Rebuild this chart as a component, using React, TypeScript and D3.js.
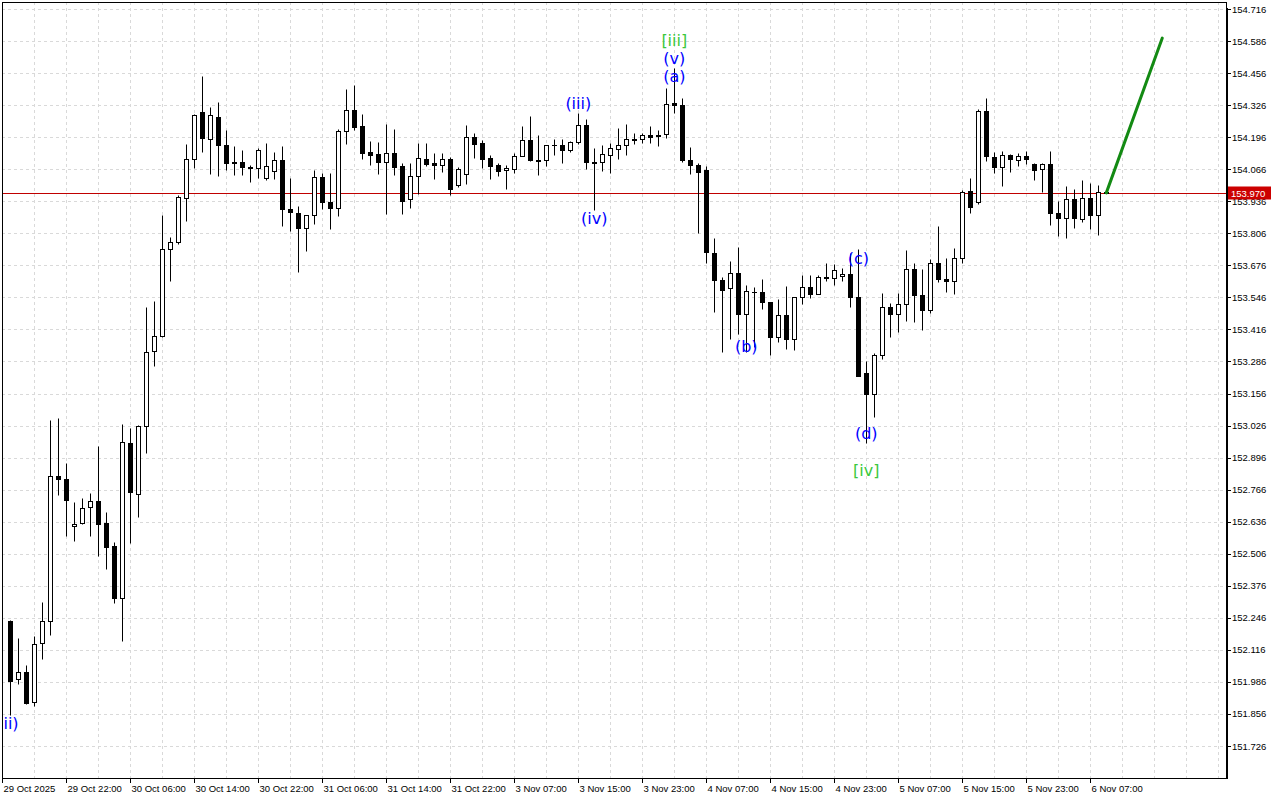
import * as d3 from "d3";

// hourly bars, 29 Oct 15:00 .. 6 Nov 08:00
const OPEN = [
  152.233, 151.997, 152.028, 151.903, 152.143, 152.232, 152.82, 152.808, 152.617, 152.63,
  152.695, 152.719, 152.63, 152.538, 152.328, 152.955, 152.749, 153.024, 153.329, 153.391,
  153.742, 153.77, 153.949, 154.109, 154.299, 154.19, 154.276, 154.166, 154.095, 154.095,
  154.075, 154.069, 154.029, 154.059, 154.102, 153.903, 153.887, 153.826, 153.879, 154.033,
  153.932, 153.908, 154.22, 154.305, 154.241, 154.136, 154.128, 154.097, 154.131, 154.078,
  153.944, 154.037, 154.106, 154.091, 154.082, 154.106, 154.001, 154.045, 154.196, 154.172,
  154.11, 154.082, 154.062, 154.068, 154.118, 154.183, 154.103, 154.105, 154.164, 154.163,
  154.145, 154.178, 154.245, 154.097, 154.094, 154.125, 154.149, 154.163, 154.187, 154.19,
  154.204, 154.205, 154.208, 154.333, 154.325, 154.102, 154.082, 154.063, 153.725, 153.615,
  153.583, 153.644, 153.477, 153.568, 153.567, 153.526, 153.384, 153.473, 153.376, 153.546,
  153.587, 153.559, 153.628, 153.624, 153.632, 153.64, 153.546, 153.238, 153.155, 153.311,
  153.506, 153.477, 153.518, 153.66, 153.555, 153.494, 153.684, 153.62, 153.611, 153.705,
  153.978, 153.932, 154.302, 154.116, 154.074, 154.123, 154.102, 154.118, 154.086, 154.066,
  154.086, 153.887, 153.867, 153.944, 153.863, 153.948, 153.879, 153.973,
];
const HIGH = [
  152.237, 152.163, 152.054, 152.171, 152.31, 153.049, 153.057, 152.874, 152.716, 152.731,
  152.753, 152.943, 152.674, 152.554, 153.032, 153.015, 153.028, 153.509, 153.53, 153.882,
  153.791, 153.961, 154.168, 154.29, 154.443, 154.317, 154.337, 154.224, 154.162, 154.142,
  154.084, 154.151, 154.172, 154.136, 154.159, 154.03, 153.917, 153.879, 154.063, 154.05,
  154.05, 154.23, 154.391, 154.408, 154.289, 154.181, 154.176, 154.251, 154.229, 154.091,
  154.091, 154.172, 154.172, 154.132, 154.132, 154.114, 154.075, 154.244, 154.213, 154.183,
  154.123, 154.091, 154.082, 154.132, 154.241, 154.282, 154.205, 154.163, 154.19, 154.19,
  154.182, 154.295, 154.269, 154.153, 154.163, 154.171, 154.234, 154.251, 154.214, 154.214,
  154.241, 154.226, 154.394, 154.478, 154.354, 154.155, 154.09, 154.079, 153.786, 153.629,
  153.692, 153.749, 153.595, 153.588, 153.619, 153.529, 153.538, 153.591, 153.546, 153.636,
  153.636, 153.636, 153.684, 153.68, 153.664, 153.725, 153.741, 153.287, 153.319, 153.563,
  153.522, 153.563, 153.737, 153.684, 153.66, 153.701, 153.836, 153.705, 153.745, 153.982,
  154.029, 154.31, 154.355, 154.136, 154.139, 154.127, 154.132, 154.139, 154.09, 154.09,
  154.139, 153.936, 153.997, 153.987, 154.021, 154.009, 154.001, 153.976,
];
const LOW = [
  151.852, 151.976, 151.898, 151.887, 152.08, 152.178, 152.746, 152.579, 152.559, 152.626,
  152.579, 152.498, 152.445, 152.308, 152.153, 152.551, 152.656, 152.916, 153.266, 153.385,
  153.613, 153.763, 153.854, 154.07, 154.135, 154.046, 154.038, 154.064, 154.041, 154.041,
  154.013, 154.03, 154.021, 154.025, 153.834, 153.817, 153.648, 153.736, 153.845, 153.903,
  153.825, 153.877, 154.17, 154.225, 154.108, 154.084, 154.048, 153.884, 154.044, 153.886,
  153.91, 153.964, 154.078, 154.028, 154.056, 153.96, 153.994, 154.007, 154.113, 154.072,
  154.028, 154.037, 153.985, 154.052, 154.118, 154.101, 154.044, 154.08, 154.125, 154.092,
  154.137, 154.17, 154.068, 153.901, 154.06, 154.052, 154.109, 154.125, 154.17, 154.174,
  154.171, 154.16, 154.194, 154.295, 154.097, 154.048, 153.806, 153.684, 153.488, 153.326,
  153.378, 153.396, 153.325, 153.344, 153.498, 153.311, 153.364, 153.335, 153.331, 153.518,
  153.542, 153.559, 153.611, 153.595, 153.611, 153.505, 153.227, 152.954, 153.06, 153.295,
  153.384, 153.404, 153.449, 153.445, 153.413, 153.482, 153.61, 153.569, 153.559, 153.684,
  153.89, 153.925, 154.098, 154.05, 153.999, 154.054, 154.078, 154.086, 154.021, 153.975,
  153.841, 153.796, 153.788, 153.829, 153.853, 153.825, 153.8, 153.969,
];
const CLOSE = [
  151.991, 152.028, 151.902, 152.141, 152.232, 152.82, 152.808, 152.725, 152.626, 152.69,
  152.719, 152.628, 152.535, 152.328, 152.958, 152.758, 153.024, 153.325, 153.391, 153.742,
  153.77, 153.954, 154.109, 154.284, 154.193, 154.284, 154.166, 154.092, 154.092, 154.076,
  154.072, 154.142, 154.078, 154.102, 153.903, 153.891, 153.826, 153.879, 154.033, 153.932,
  153.91, 154.22, 154.305, 154.239, 154.133, 154.125, 154.097, 154.131, 154.073, 153.938,
  154.037, 154.11, 154.088, 154.082, 154.106, 153.987, 154.066, 154.196, 154.17, 154.109,
  154.08, 154.06, 154.07, 154.118, 154.183, 154.105, 154.101, 154.163, 154.166, 154.145,
  154.175, 154.245, 154.097, 154.09, 154.127, 154.151, 154.163, 154.187, 154.186, 154.204,
  154.198, 154.201, 154.332, 154.325, 154.102, 154.082, 154.056, 153.729, 153.618, 153.575,
  153.644, 153.477, 153.571, 153.566, 153.526, 153.384, 153.473, 153.376, 153.546, 153.587,
  153.559, 153.628, 153.624, 153.656, 153.64, 153.546, 153.227, 153.155, 153.311, 153.506,
  153.477, 153.518, 153.66, 153.555, 153.494, 153.684, 153.62, 153.611, 153.705, 153.975,
  153.914, 154.302, 154.118, 154.074, 154.123, 154.106, 154.118, 154.106, 154.062, 154.086,
  153.887, 153.867, 153.944, 153.867, 153.948, 153.879, 153.975, 153.97,
];

const Y_TICKS = [
  154.716, 154.586, 154.456, 154.326, 154.196, 154.066, 153.936, 153.806, 153.676, 153.546,
  153.416, 153.286, 153.156, 153.026, 152.896, 152.766, 152.636, 152.506, 152.376, 152.246,
  152.116, 151.986, 151.856, 151.726,
];
const X_LABELS = [
  "29 Oct 2025", "29 Oct 22:00", "30 Oct 06:00", "30 Oct 14:00", "30 Oct 22:00", "31 Oct 06:00",
  "31 Oct 14:00", "31 Oct 22:00", "3 Nov 07:00", "3 Nov 15:00", "3 Nov 23:00", "4 Nov 07:00",
  "4 Nov 15:00", "4 Nov 23:00", "5 Nov 07:00", "5 Nov 15:00", "5 Nov 23:00", "6 Nov 07:00",
];

// Elliott wave marks
const WAVE_TEXT = ["(ii)", "(iii)", "(iv)", "[iii]", "(v)", "(a)", "(b)", "(c)", "(d)", "[iv]"];
const WAVE_BAR = [-0.3, 71, 73, 83, 83, 83, 92, 106, 107, 107];
const WAVE_PRICE = [151.819, 154.331, 153.868, 154.59, 154.517, 154.444, 153.345, 153.702, 152.992, 152.842];

// forecast arrow
const FORECAST_BAR = [137, 144];
const FORECAST_PRICE = [153.97, 154.598];
const LAST_PRICE = 153.97;

const PLOT = { left: 2, top: 2, right: 1226, bottom: 778 };
const TICK_FONT = "'Liberation Sans', Arial, sans-serif";

export default function App() {
  const x = d3.scaleLinear().domain([0, 137]).range([10.3, 1106.3]);
  const y = d3.scaleLinear().domain([151.726, 154.716]).range([746, 9]);
  const sx = (i: number) => Math.round(x(i)) + 0.5;
  const sy = (p: number) => Math.round(y(p)) + 0.5;

  const gridX = d3.range(-1, 152, 4).map(sx).filter((v) => v < PLOT.right);
  const labelBars = X_LABELS.map((_, k) => -1 + 8 * k);

  const forecast = d3
    .line<number>()
    .x((_, k) => x(FORECAST_BAR[k]))
    .y((d) => y(d))(FORECAST_PRICE);

  return (
    <svg
      width={1280}
      height={800}
      style={{ position: "fixed", left: 0, top: 0, background: "#fff" }}
    >
      <defs>
        <clipPath id="plot-clip">
          <rect x={PLOT.left + 1} y={PLOT.top} width={PLOT.right - PLOT.left} height={PLOT.bottom - PLOT.top} />
        </clipPath>
      </defs>

      {/* grid */}
      <g stroke="#d9d9d9" strokeDasharray="3,3" strokeWidth={1}>
        {Y_TICKS.map((t) => (
          <line key={t} x1={PLOT.left} x2={PLOT.right} y1={sy(t)} y2={sy(t)} />
        ))}
        {gridX.map((gx) => (
          <line key={gx} x1={gx} x2={gx} y1={PLOT.top} y2={PLOT.bottom} />
        ))}
      </g>

      {/* last price line */}
      <line x1={PLOT.left} x2={PLOT.right} y1={sy(LAST_PRICE)} y2={sy(LAST_PRICE)} stroke="#c00000" strokeWidth={1} />

      <g clipPath="url(#plot-clip)">
        {OPEN.map((o, i) => {
          const c = CLOSE[i];
          const cx = sx(i);
          const top = sy(Math.max(o, c));
          const bot = sy(Math.min(o, c));
          const bull = c >= o;
          return (
            <g key={i}>
              <line x1={cx} x2={cx} y1={sy(HIGH[i])} y2={sy(LOW[i])} stroke="#000" strokeWidth={1} />
              {bot - top < 1 ? (
                <line x1={cx - 2.5} x2={cx + 2.5} y1={top} y2={top} stroke="#000" strokeWidth={1} />
              ) : (
                <rect
                  x={cx - 2}
                  y={top}
                  width={4}
                  height={bot - top}
                  fill={bull ? "#fff" : "#000"}
                  stroke="#000"
                  strokeWidth={1}
                />
              )}
            </g>
          );
        })}

        <path d={forecast ?? ""} fill="none" stroke="#138a13" strokeWidth={3} strokeLinecap="round" />

        {WAVE_TEXT.map((t, k) => (
          <text
            key={k}
            x={x(WAVE_BAR[k])}
            y={y(WAVE_PRICE[k])}
            textAnchor="middle"
            dominantBaseline="central"
            fontFamily="'DejaVu Sans', sans-serif"
            fontSize={16}
            fill={t.startsWith("[") ? "#3cc83c" : "#0000ff"}
          >
            {t}
          </text>
        ))}
      </g>

      {/* frame */}
      <rect
        x={PLOT.left + 0.5}
        y={PLOT.top + 0.5}
        width={PLOT.right - PLOT.left}
        height={PLOT.bottom - PLOT.top}
        fill="none"
        stroke="#000"
        strokeWidth={1}
      />
      <line x1={PLOT.right + 1} x2={PLOT.right + 1} y1={PLOT.top + 6} y2={PLOT.bottom + 1} stroke="#000" strokeWidth={2} />

      {/* price axis */}
      <g fontFamily={TICK_FONT} fontSize={9.5} fill="#000">
        {Y_TICKS.map((t) => (
          <g key={t}>
            <line x1={PLOT.right + 1} x2={PLOT.right + 5} y1={sy(t)} y2={sy(t)} stroke="#000" />
            <text x={1232} y={y(t)} dominantBaseline="central">
              {t.toFixed(3)}
            </text>
          </g>
        ))}
      </g>

      {/* last price tag */}
      <rect x={1228} y={sy(LAST_PRICE) - 7} width={43} height={13} fill="#cc0000" />
      <text
        x={1231}
        y={sy(LAST_PRICE)}
        dominantBaseline="central"
        fontFamily={TICK_FONT}
        fontSize={9.5}
        fill="#fff"
      >
        {LAST_PRICE.toFixed(3)}
      </text>

      {/* time axis */}
      <g fontFamily={TICK_FONT} fontSize={9.5} fill="#000">
        {labelBars.map((b, k) => (
          <g key={k}>
            <line x1={sx(b)} x2={sx(b)} y1={PLOT.bottom} y2={PLOT.bottom + 5} stroke="#000" />
            <text x={sx(b) + 1} y={792}>
              {X_LABELS[k]}
            </text>
          </g>
        ))}
      </g>
    </svg>
  );
}
